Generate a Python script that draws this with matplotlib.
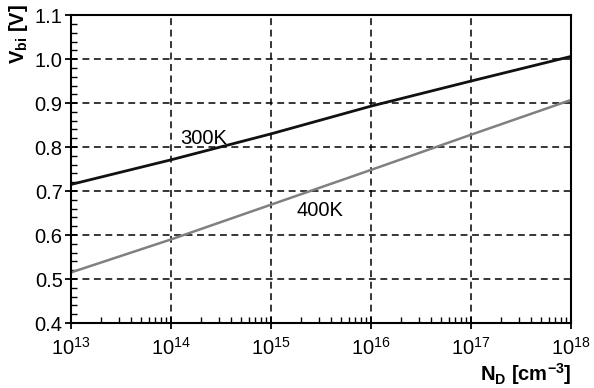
import matplotlib
matplotlib.use("Agg")
import matplotlib.pyplot as plt
from matplotlib.ticker import MultipleLocator, LogLocator, NullFormatter

plt.rcParams.update({
    "font.family": ["Liberation Sans", "DejaVu Sans"],
    "mathtext.fontset": "custom",
    "mathtext.rm": "Liberation Sans",
    "mathtext.it": "Liberation Sans:italic",
    "mathtext.bf": "Liberation Sans:bold",
})

# doping concentration N_D [cm^-3]
nd = [1e13, 1e14, 1e15, 1e16, 1e17, 1e18]
# built-in voltage [V]
vbi_300 = [0.715, 0.771, 0.830, 0.893, 0.950, 1.006]
vbi_400 = [0.515, 0.590, 0.669, 0.748, 0.828, 0.907]

FS = 14.5

fig = plt.figure(figsize=(5.94, 3.88), dpi=100)
ax = fig.add_axes([0.1195, 0.1675, 0.8415, 0.7935])

ax.plot(nd, vbi_300, color="#111111", lw=2.0)
ax.plot(nd, vbi_400, color="#808080", lw=1.8)

ax.set_xscale("log")
ax.set_xlim(1e13, 1e18)
ax.set_ylim(0.4, 1.1)
ax.yaxis.set_major_locator(MultipleLocator(0.1))
ax.yaxis.set_minor_locator(MultipleLocator(0.02))
ax.yaxis.set_major_formatter(plt.FuncFormatter(lambda v, p: f"{v:.1f}"))
ax.xaxis.set_major_locator(LogLocator(base=10, numticks=10))
ax.xaxis.set_minor_locator(LogLocator(base=10, subs=range(2, 10), numticks=20))
ax.xaxis.set_minor_formatter(NullFormatter())

ax.grid(which="major", color="black", ls=(0, (4.5, 3)), lw=1.1)
for s in ax.spines.values():
    s.set_linewidth(1.5)
ax.tick_params(which="major", direction="inout", length=8, width=1.3,
               labelsize=FS, color="black")
ax.tick_params(which="minor", direction="in", length=4, width=1.0)
ax.tick_params(axis="x", which="major", pad=6)
ax.tick_params(axis="y", which="major", pad=2)

ax.text(1.25e14, 0.808, "300K", fontsize=FS)
ax.text(1.8e15, 0.643, "400K", fontsize=FS)

fig.text(0.012, 0.99, r"$\mathbf{V_{bi}}$ [V]", rotation=90, ha="left",
         va="top", fontsize=FS, fontweight="bold")
fig.text(0.962, 0.003, r"$\mathbf{N_D}$ [cm$^{\mathbf{-3}}$]", ha="right",
         va="bottom", fontsize=FS, fontweight="bold")

fig.savefig("out.png", dpi=100)
